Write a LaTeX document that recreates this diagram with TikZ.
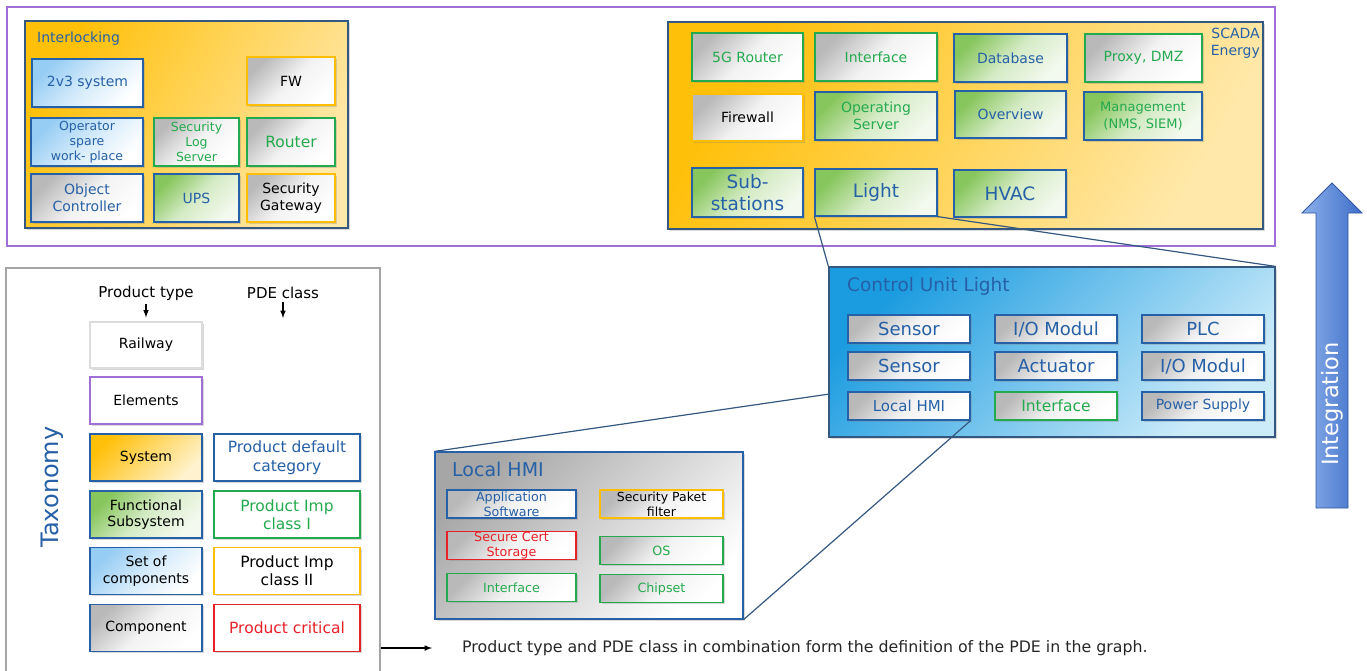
\documentclass[tikz,border=0pt]{standalone}
\usepackage{fontspec}
\setmainfont{DejaVu Sans}
\usetikzlibrary{arrows,shadows,backgrounds}
\definecolor{tblue}{RGB}{38,96,166}
\definecolor{tgreen}{RGB}{36,170,78}
\definecolor{torange}{RGB}{255,190,0}
\definecolor{tred}{RGB}{232,32,40}
\definecolor{tpurple}{RGB}{160,110,215}
\definecolor{areaedge}{RGB}{52,88,128}
\definecolor{boxgray}{RGB}{185,185,185}
\definecolor{boxgreen}{RGB}{135,198,92}
\definecolor{boxsky}{RGB}{150,205,244}
\definecolor{boxsun}{RGB}{255,192,10}
\definecolor{sunpale}{RGB}{255,232,170}
\definecolor{cublue}{RGB}{28,156,224}
\definecolor{cupale}{RGB}{205,236,250}
\definecolor{railgray}{RGB}{220,220,220}
\definecolor{taxgray}{RGB}{165,165,165}
\definecolor{arrowlight}{RGB}{140,176,235}
\definecolor{arrowdark}{RGB}{62,110,200}
\tikzset{
  >=latex,
  {shadowed/.style} ={drop shadow={opacity=.3, shadow xshift=1.5pt, shadow yshift=-1.5pt}},
  {base box/.style} ={shadowed, draw=#1, text=#1, line width=1.2pt, align=center,
                      inner sep=1pt, font=\fontsize{14}{16.5}\selectfont},
  {gray box/.style} ={base box=#1, top color=boxgray, bottom color=white,
                      middle color=boxgray!18, shading angle=45},
  {green box/.style} ={base box=#1, top color=boxgreen, bottom color=white!90!boxgreen,
                       middle color=boxgreen!35, shading angle=45},
  {sky box/.style} ={base box=#1, top color=boxsky, bottom color=white,
                     middle color=boxsky!40, shading angle=45},
  {sun box/.style} ={base box=#1, top color=boxsun, bottom color=white!80!boxsun, shading angle=45},
  {plain box/.style} ={base box=#1, fill=white},
  {small text/.style} ={font=\fontsize{12.5}{15}\selectfont},
  {large text/.style} ={font=\fontsize{18.5}{22}\selectfont},
  {area/.style} ={shadowed, draw=areaedge, line width=1.2pt},
  {sun area/.style} ={area, top color=boxsun, bottom color=sunpale, shading angle=60},
  {cu area/.style} ={area, top color=cublue, bottom color=cupale, shading angle=45},
  {hmi area/.style} ={area, draw=tblue, top color=boxgray!90!black, bottom color=white, shading angle=45},
  {area title/.style} ={text=tblue, inner sep=0pt, align=left},
  {cu box/.style} ={gray box=#1, minimum width=122pt, minimum height=28pt,
                    font=\fontsize{18}{20}\selectfont},
  cu box/.default = tblue,
  {hmi box/.style} ={gray box=#1, minimum height=28pt, inner ysep=0pt,
                     font=\fontsize{12.7}{15}\selectfont},
  {tax box/.style} ={minimum height=47pt},
  {link/.style} ={draw=areaedge, line width=1.2pt},
}
\begin{document}
\begin{tikzpicture}[x=1pt,y=-1pt]
\useasboundingbox (0,0) rectangle (1367,670);
\node[draw=tpurple, line width=1.2pt, minimum width=1268pt, minimum height=239pt] (top) at (641,126.5) {};
% Interlocking
\node[sun area, minimum width=323pt, minimum height=207pt] (IL) at (186.5,124.5) {};
\node[area title, anchor=west, font=\fontsize{14}{16}\selectfont] (ILt) at (37,39) {Interlocking};
\node[sky box=tblue, minimum width=111pt, minimum height=48pt] (sys) at (87.5,83) {2v3 system};
\node[gray box=torange, text=black, minimum width=88pt, minimum height=48pt] (fw) at (291,81) {FW};
\node[sky box=tblue, small text, minimum width=112pt, minimum height=48pt] (opws) at (87,142) {Operator\\spare\\work- place};
\node[gray box=tgreen, small text, minimum width=85pt, minimum height=48pt] (slog) at (196.5,142) {Security\\Log\\Server};
\node[gray box=tgreen, font=\fontsize{15.5}{17}\selectfont, minimum width=88pt, minimum height=48pt] (rt) at (291,142) {Router};
\node[gray box=tblue, minimum width=112pt, minimum height=48pt] (objc) at (87,198) {Object\\Controller};
\node[green box=tblue, minimum width=85pt, minimum height=48pt] (ups) at (196.5,198) {UPS};
\node[gray box=torange, text=black, minimum width=88pt, minimum height=48pt] (sgw) at (291,198) {Security\\Gateway};
% SCADA Energy
\node[sun area, minimum width=595pt, minimum height=207pt] (SC) at (965.5,125.5) {};
\node[area title, anchor=north east, align=right, font=\fontsize{14}{16.5}\selectfont] (SCt) at (1260,28) {SCADA\\Energy};
\node[gray box=tgreen, minimum width=111pt, minimum height=48pt] (rt5g) at (747.5,57) {5G Router};
\node[gray box=tgreen, minimum width=122pt, minimum height=48pt] (ifc) at (876,57) {Interface};
\node[green box=tblue, minimum width=113pt, minimum height=48pt] (db) at (1010.5,58) {Database};
\node[gray box=tgreen, minimum width=117pt, minimum height=48pt] (pxy) at (1143.5,58) {Proxy, DMZ};
\node[gray box=torange, text=black, minimum width=111pt, minimum height=47pt] (fwl) at (747.5,117.5) {Firewall};
\node[green box=tblue, text=tgreen, minimum width=122pt, minimum height=48pt] (ops) at (876,116) {Operating\\Server};
\node[green box=tblue, minimum width=111pt, minimum height=47pt] (ovw) at (1010.5,114.5) {Overview};
\node[green box=tblue, text=tgreen, font=\fontsize{13}{17}\selectfont, minimum width=118pt, minimum height=48pt] (mgmt) at (1143,116) {Management\\(NMS, SIEM)};
\node[green box=tblue, large text, minimum width=111pt, minimum height=49pt] (subst) at (747.5,192.5) {Sub-\\stations};
\node[green box=tblue, large text, minimum width=122pt, minimum height=47pt] (light) at (876,192.5) {Light};
\node[green box=tblue, large text, minimum width=112pt, minimum height=47pt] (hvac) at (1010,193.5) {HVAC};
% Control Unit Light
\node[cu area, minimum width=446pt, minimum height=170pt] (CU) at (1052,352) {};
\node[area title, anchor=west, font=\fontsize{18.5}{20}\selectfont] (CUt) at (847,286) {Control Unit Light};
\node[cu box] (sen1) at (909,329) {Sensor};
\node[cu box] (io1) at (1056,329) {I/O Modul};
\node[cu box] (plc) at (1203,329) {PLC};
\node[cu box] (sen2) at (909,366) {Sensor};
\node[cu box] (act) at (1056,366) {Actuator};
\node[cu box] (io2) at (1203,366) {I/O Modul};
\node[cu box, font=\fontsize{15}{17}\selectfont] (lhmi) at (909,406) {Local HMI};
\node[cu box=tgreen, font=\fontsize{15.5}{17}\selectfont] (cuif) at (1056,406) {Interface};
\node[cu box, font=\fontsize{14}{16}\selectfont] (pwr) at (1203,406) {Power Supply};
% Local HMI
\node[hmi area, minimum width=308pt, minimum height=167pt] (HM) at (589,535.5) {};
\node[area title, anchor=west, font=\fontsize{19}{21}\selectfont] (HMt) at (452,469) {Local HMI};
\node[hmi box=tblue, minimum width=129pt] (app) at (511.5,504) {Application\\Software};
\node[hmi box=torange, text=black, font=\fontsize{12.5}{15}\selectfont, minimum width=123pt] (spf) at (661.5,504) {Security Paket\\filter};
\node[hmi box=tred, minimum width=129pt] (cert) at (511.5,545.5) {Secure Cert\\Storage};
\node[hmi box=tgreen, minimum width=123pt] (os) at (661.5,550.5) {OS};
\node[hmi box=tgreen, minimum width=129pt] (hmif) at (511.5,587.5) {Interface};
\node[hmi box=tgreen, minimum width=123pt] (chip) at (661.5,588.5) {Chipset};
\path[link] (light.south west) -- (CU.north west)
            (light.south east) -- (CU.north east)
            (lhmi.south east) -- (HM.south east);
\begin{scope}[on background layer]
\path[link] (lhmi.north west) -- (HM.north west);
\end{scope}
% Taxonomy
\node[draw=taxgray, line width=1.2pt, fill=white, minimum width=374pt, minimum height=412pt] (tax) at (193,474) {};
\node[text=tblue, rotate=90, font=\fontsize{24}{26}\selectfont] (taxl) at (52,487) {Taxonomy};
\node[font=\fontsize{15}{17}\selectfont] (ptype) at (146,293) {Product type};
\node[font=\fontsize{15}{17}\selectfont] (pcls) at (283,293) {PDE class};
\node[plain box=railgray, text=black, tax box, minimum width=112pt, minimum height=46pt] (rail) at (146,345) {Railway};
\node[plain box=tpurple, text=black, tax box, minimum width=112pt] (elem) at (146,400.5) {Elements};
\node[sun box=tblue, text=black, tax box, minimum width=112pt] (system) at (146,457.5) {System};
\node[green box=tblue, text=black, tax box, minimum width=112pt] (fsub) at (146,514.5) {Functional\\Subsystem};
\node[sky box=tblue, text=black, tax box, minimum width=112pt] (scomp) at (146,571) {Set of\\components};
\node[gray box=tblue, text=black, tax box, minimum width=112pt] (comp) at (146,628) {Component};
\node[plain box=tblue, tax box, font=\fontsize{15.5}{19}\selectfont, minimum width=146pt] (pdc) at (287,457.5) {Product default\\category};
\node[plain box=tgreen, tax box, font=\fontsize{15.5}{18}\selectfont, minimum width=146pt] (imp1) at (287,514.5) {Product Imp\\class I};
\node[plain box=torange, text=black, tax box, font=\fontsize{15.5}{18}\selectfont, minimum width=146pt] (imp2) at (287,571) {Product Imp\\class II};
\node[plain box=tred, tax box, font=\fontsize{15.5}{18}\selectfont, minimum width=146pt] (crit) at (287,628) {Product critical};
\coordinate (pend) at (283,318);
\draw[->, line width=1.5pt, shorten >=4pt] (ptype) -- (rail);
\draw[->, line width=1.5pt] (pcls) -- (pend);
\node[anchor=west, inner sep=0pt, text=black!85, font=\fontsize{15.8}{18}\selectfont] (note) at (462,648)
  {Product type and PDE class in combination form the definition of the PDE in the graph.};
\draw[->, line width=1.5pt, shorten >=30pt] (note.west -| tax.east) -- (note.west);
% Integration
\path[draw=arrowdark!80!black, line width=0.8pt, left color=arrowlight, right color=arrowdark]
  (1316,508) -- (1316,213) -- (1302,213) -- (1332,183) -- (1362,213) -- (1348,213) -- (1348,508) -- cycle;
\node[rotate=90, text=white, font=\fontsize{22.5}{24}\selectfont] (integ) at (1332,404) {Integration};
\end{tikzpicture}
\end{document}
